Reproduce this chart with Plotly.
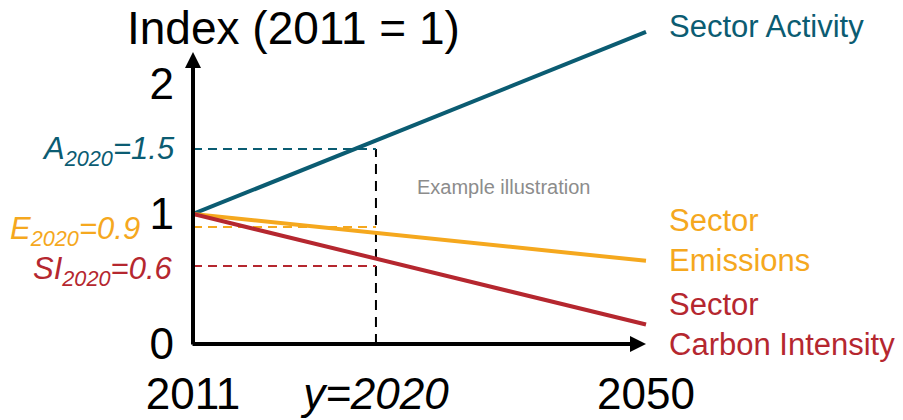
import math
import plotly.graph_objects as go

# Index values (2011 = 1) for the three sector indicators
series_names = ["Sector Activity", "Sector Emissions", "Sector Carbon Intensity"]
series_labels = ["Sector Activity", "Sector<br>Emissions", "Sector<br>Carbon Intensity"]
start_year = 2011
milestone_year = 2020
end_year = 2050
index_start = [1.0, 1.0, 1.0]
index_end = [2.4, 0.64, 0.15]
index_milestone = [1.5, 0.9, 0.6]
milestone_labels = [
    "<i>A<sub>2020</sub>=1.5</i>",
    "<i>E<sub>2020</sub>=0.9</i>",
    "<i>SI<sub>2020</sub>=0.6</i>",
]
x_tick_years = [2011, 2020, 2050]
x_tick_text = ["2011", "<i>y=2020</i>", "2050"]
y_tick_vals = [0, 1, 2]
y_tick_text = ["0", "1", "2"]

colors = ["#0B5C72", "#F5A81E", "#B5272F"]
label_shift_x = [-16, -51, -18]
label_shift_y = [-2, -4, -5]
end_label_shift_y = [5, 20, 0]

# Schematic, compressed time axis: log scale of years counted from 2001
YEAR_BASE = 2001


def tx(year):
    return year - YEAR_BASE


def tx_log(year):
    return math.log10(year - YEAR_BASE)


FONT = "Liberation Sans, Arial, sans-serif"

fig = go.Figure()

# Dashed guides at the milestone year
fig.add_trace(go.Scatter(
    x=[tx(milestone_year), tx(milestone_year)], y=[0, index_milestone[0]],
    mode="lines", line=dict(color="black", width=2, dash="10px,7px"),
    hoverinfo="skip", showlegend=False,
))
for val, col in zip(index_milestone, colors):
    fig.add_trace(go.Scatter(
        x=[tx(start_year), tx(milestone_year)], y=[val, val],
        mode="lines", line=dict(color=col, width=2, dash="9px,6px"),
        hoverinfo="skip", showlegend=False,
    ))

# Indicator lines
for name, y0, y1, col in zip(series_names, index_start, index_end, colors):
    fig.add_trace(go.Scatter(
        x=[tx(start_year), tx(end_year)], y=[y0, y1],
        mode="lines", name=name, line=dict(color=col, width=4),
        hoverinfo="skip", showlegend=False,
    ))

annotations = []

# Axis arrows
annotations.append(dict(
    x=tx_log(start_year), y=2.246, ax=tx_log(start_year), ay=-0.015,
    xref="x", yref="y", axref="x", ayref="y", text="", showarrow=True,
    arrowhead=2, arrowsize=0.8, arrowwidth=4, arrowcolor="black", standoff=0,
))
annotations.append(dict(
    x=tx_log(end_year), y=0, ax=tx_log(start_year) - 0.003, ay=0,
    xref="x", yref="y", axref="x", ayref="y", text="", showarrow=True,
    arrowhead=2, arrowsize=0.8, arrowwidth=4, arrowcolor="black", standoff=0,
))

# Series labels at the line ends
for lab, y1, col, dy in zip(series_labels, index_end, colors, end_label_shift_y):
    annotations.append(dict(
        x=tx_log(end_year), y=y1, xref="x", yref="y", text=lab, showarrow=False,
        xanchor="left", yanchor="middle", align="left", xshift=21, yshift=dy,
        font=dict(family=FONT, size=31, color=col),
    ))

# Milestone value labels
for lab, val, col, dx, dy in zip(milestone_labels, index_milestone, colors,
                                 label_shift_x, label_shift_y):
    annotations.append(dict(
        x=tx_log(start_year), y=val, xref="x", yref="y", text=lab, showarrow=False,
        xanchor="right", yanchor="middle", xshift=dx, yshift=dy,
        font=dict(family=FONT, size=31, color=col),
    ))

annotations.append(dict(
    x=0.486, y=0.456, xref="paper", yref="paper", text="Example illustration",
    showarrow=False, xanchor="left", yanchor="middle",
    font=dict(family=FONT, size=20, color="#8C8C8C"),
))
annotations.append(dict(
    x=0.221, y=1.0, xref="paper", yref="paper", text="Index (2011 = 1)",
    showarrow=False, xanchor="center", yanchor="top",
    font=dict(family=FONT, size=46, color="black"),
))

fig.update_layout(
    template="none",
    width=903, height=420,
    margin=dict(l=193, r=253, t=0, b=76, pad=0),
    paper_bgcolor="white", plot_bgcolor="white",
    font=dict(family=FONT, color="black"),
    showlegend=False,
    annotations=annotations,
    xaxis=dict(
        type="log", range=[1.0, 1.696291], showgrid=False, zeroline=False,
        showline=False, ticks="", tickvals=[tx(y) for y in x_tick_years],
        ticktext=x_tick_text, tickfont=dict(family=FONT, size=44, color="black"),
        ticklabelstandoff=20, automargin=False,
    ),
    yaxis=dict(
        range=[0, 2.646], showgrid=False, zeroline=False, showline=False,
        ticks="", tickvals=y_tick_vals, ticktext=y_tick_text,
        tickfont=dict(family=FONT, size=44, color="black"),
        ticklabelstandoff=18, automargin=False,
    ),
)

fig.write_html("out.html")
